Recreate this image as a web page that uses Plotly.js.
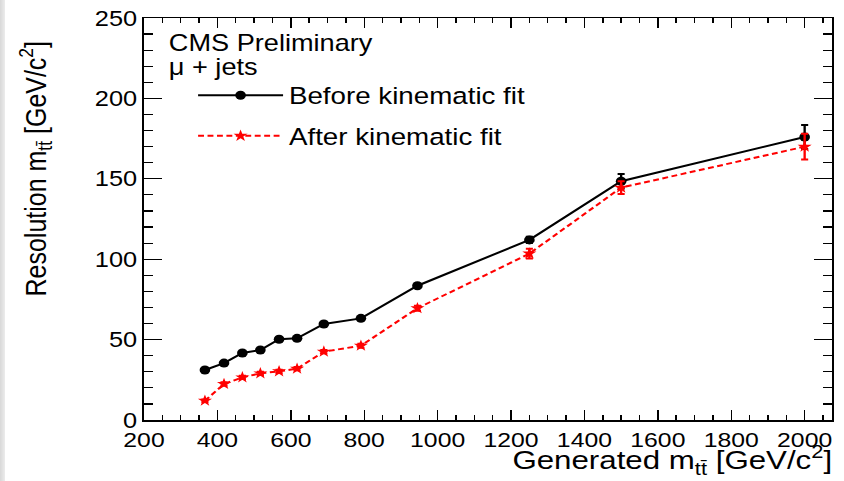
<!DOCTYPE html>
<html>
<head>
<meta charset="utf-8">
<script src="https://cdn.plot.ly/plotly-3.0.1.min.js"></script>
<style>
  html, body { margin: 0; padding: 0; background: #fff; overflow: hidden; }
  #wrap { position: relative; width: 844px; height: 481px; overflow: hidden; }
  #strip { position: absolute; left: 0; top: 0; width: 5px; height: 481px;
           background: linear-gradient(to right, #d8d8d8, #ececec); z-index: 2; }
  #chart { position: absolute; left: 0; top: 0; width: 715px; height: 481px;
           transform: scaleX(1.1804); transform-origin: 0 0; }
</style>
</head>
<body>
<div id="wrap">
  <div id="strip"></div>
  <div id="chart"></div>
</div>
<script>
// Generated m_tt [GeV/c^2]
const mass = [366, 418, 468, 517, 568, 617, 690, 791, 945, 1250, 1500, 2000];
// Resolution before kinematic fit
const before = [31.1, 35.4, 41.7, 43.5, 50.2, 50.8, 59.7, 63.2, 83.5, 112.0, 148.5, 176.0];
const beforeErr = [0.8, 0.8, 0.8, 0.8, 0.8, 0.8, 1.0, 1.0, 1.2, 2.0, 4.5, 7.5];
// Resolution after kinematic fit
const after = [12.0, 22.4, 26.5, 29.0, 30.3, 31.9, 42.5, 46.2, 69.5, 103.5, 144.5, 170.0];
const afterErr = [0.8, 1.0, 1.0, 1.0, 1.0, 1.0, 1.0, 1.2, 1.5, 3.0, 4.0, 8.0];

const xTicks = [200, 400, 600, 800, 1000, 1200, 1400, 1600, 1800, 2000];
const yTicks = [0, 50, 100, 150, 200, 250];

const FONT = 'Liberation Sans, Arial, Helvetica, sans-serif';

const traces = [
  {
    x: mass, y: before, type: 'scatter', mode: 'lines+markers',
    name: 'Before kinematic fit', legendgroup: 'a',
    line: {color: '#000', width: 2},
    marker: {symbol: 'circle', size: 9, color: '#000'},
    error_y: {type: 'data', array: beforeErr, visible: true, color: '#000', thickness: 2, width: 3}
  },
  {
    x: mass, y: after, type: 'scatter', mode: 'lines+markers',
    name: 'After kinematic fit', legendgroup: 'b',
    line: {color: '#ff0000', width: 2, dash: '5px,3px'},
    marker: {symbol: 'star', size: 9, color: '#ff0000'},
    error_y: {type: 'data', array: afterErr, visible: true, color: '#ff0000', thickness: 2, width: 3}
  }
];

const layout = {
  width: 715, height: 481,
  margin: {l: 122, r: 10, t: 18, b: 61},
  paper_bgcolor: '#fff', plot_bgcolor: '#fff',
  font: {family: FONT, color: '#000', size: 21},
  showlegend: true,
  legend: {
    x: 0.07, y: 0.862, xanchor: 'left', yanchor: 'top',
    bgcolor: 'rgba(0,0,0,0)', borderwidth: 0,
    font: {family: FONT, size: 23.5, color: '#000'},
    tracegroupgap: 7, itemwidth: 72
  },
  xaxis: {
    range: [200, 2075], tickvals: xTicks, ticktext: xTicks.map(String),
    ticks: 'inside', ticklen: 10, tickwidth: 1.2, tickcolor: '#000',
    minor: {dtick: 50, tick0: 0, ticks: 'inside', ticklen: 5, tickwidth: 1.2, tickcolor: '#000'},
    showline: true, linecolor: '#000', linewidth: 1.5, mirror: 'allticks',
    showgrid: false, zeroline: false,
    tickfont: {family: FONT, size: 21, color: '#000'}
  },
  yaxis: {
    range: [0, 250], tickvals: yTicks, ticktext: yTicks.map(String),
    ticks: 'inside', ticklen: 15, tickwidth: 1.2, tickcolor: '#000',
    minor: {dtick: 10, tick0: 0, ticks: 'inside', ticklen: 8, tickwidth: 1.2, tickcolor: '#000'},
    showline: true, linecolor: '#000', linewidth: 1.5, mirror: 'allticks',
    showgrid: false, zeroline: false,
    tickfont: {family: FONT, size: 21.5, color: '#000'}
  },
  annotations: [
    {text: 'CMS Preliminary', xref: 'paper', yref: 'paper', x: 0.033, y: 0.975,
     xanchor: 'left', yanchor: 'top', showarrow: false, font: {family: FONT, size: 23}},
    {text: 'μ + jets', xref: 'paper', yref: 'paper', x: 0.033, y: 0.915,
     xanchor: 'left', yanchor: 'top', showarrow: false, font: {family: FONT, size: 23}},
    {text: 'Generated m<sub>tt̄</sub> [GeV/c<sup>2</sup>]', xref: 'paper', yref: 'paper',
     x: 1.003, y: -0.048, xanchor: 'right', yanchor: 'top', showarrow: false,
     font: {family: FONT, size: 26.5}},
    {text: 'Resolution m<sub>tt̄</sub> [GeV/c<sup>2</sup>]', xref: 'paper', yref: 'paper',
     x: -0.157, y: 0.95, xanchor: 'center', yanchor: 'top', textangle: -90, showarrow: false,
     font: {family: FONT, size: 25}}
  ]
};

Plotly.newPlot('chart', traces, layout, {displayModeBar: false, staticPlot: true});
</script>
</body>
</html>
